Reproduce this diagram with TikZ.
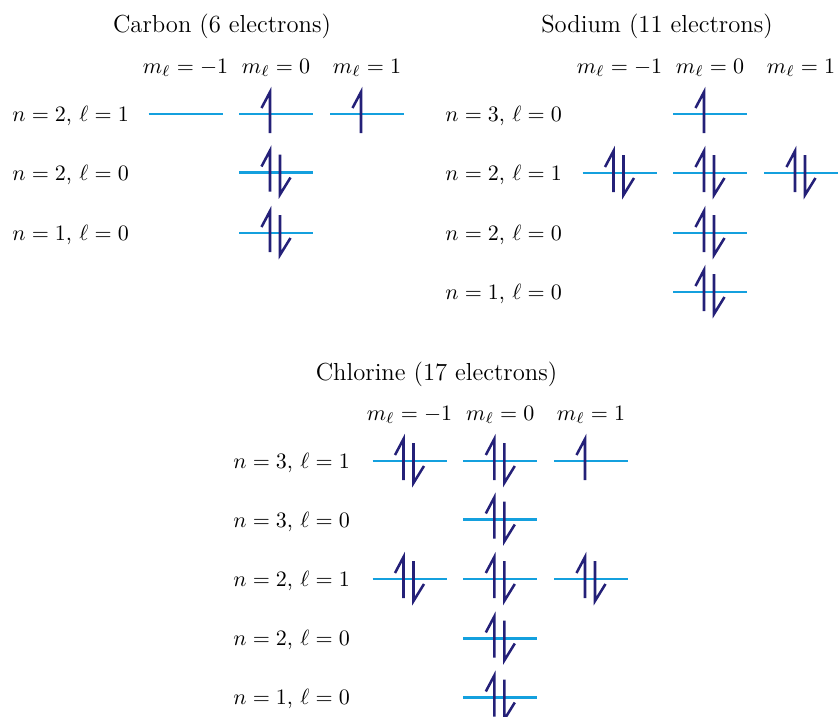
\documentclass[tikz,border=0pt]{standalone}
\definecolor{orbcol}{RGB}{20,160,222}
\definecolor{eleccol}{RGB}{36,32,120}
\tikzset{
  orb/.style={draw=orbcol, line width=1.35pt},
  elec/.style={draw=eleccol, line width=1.15pt, line join=miter, line cap=butt},
  title/.style={anchor=base, inner sep=0pt, font=\fontsize{11.2}{13}\selectfont},
  mlab/.style={anchor=base, inner sep=0pt},
  rlab/.style={anchor=base west, inner sep=0pt},
}
\newcommand\orbital[3]{%
  \draw[orb] ({#1-37},#2) -- ({#1+37},#2);
  \ifnum#3>0 \draw[elec] ({#1-6},{#2+19}) -- ({#1-6},{#2-22}) -- ({#1-14.5},{#2-6});\fi
  \ifnum#3>1 \draw[elec] ({#1+4},{#2-18}) -- ({#1+4},{#2+22}) -- ({#1+14.5},{#2+5});\fi
}
\begin{document}
\begin{tikzpicture}[x=0.4545pt,y=-0.4545pt]
\useasboundingbox (0,0) rectangle (838,717);
% ---------------- Carbon
\node[title] (ctitle) at (222,32) {Carbon (6 electrons)};
\node[mlab] (cm1) at (185.5,73) {$m_\ell = -1$};
\node[mlab] (cm2) at (276,73) {$m_\ell = 0$};
\node[mlab] (cm3) at (367,73) {$m_\ell = 1$};
\node[rlab] (cr1) at (12,121.5) {$n = 2$, $\ell = 1$};
\node[rlab] (cr2) at (12,180) {$n = 2$, $\ell = 0$};
\node[rlab] (cr3) at (12,240.5) {$n = 1$, $\ell = 0$};
\orbital{185.5}{114}{0}
\orbital{276}{114}{1}
\orbital{367}{114}{1}
\orbital{276}{172.5}{2}
\orbital{276}{233}{2}
% ---------------- Sodium
\node[title] (ntitle) at (657,32) {Sodium (11 electrons)};
\node[mlab] (nm1) at (619.5,73) {$m_\ell = -1$};
\node[mlab] (nm2) at (710,73) {$m_\ell = 0$};
\node[mlab] (nm3) at (801,73) {$m_\ell = 1$};
\node[rlab] (nr1) at (445,121.5) {$n = 3$, $\ell = 0$};
\node[rlab] (nr2) at (445,180.5) {$n = 2$, $\ell = 1$};
\node[rlab] (nr3) at (445,240.5) {$n = 2$, $\ell = 0$};
\node[rlab] (nr4) at (445,299.5) {$n = 1$, $\ell = 0$};
\orbital{710}{114}{1}
\orbital{619.5}{173}{2}
\orbital{710}{173}{2}
\orbital{801}{173}{2}
\orbital{710}{233}{2}
\orbital{710}{292}{2}
% ---------------- Chlorine
\node[title] (ltitle) at (436.5,380) {Chlorine (17 electrons)};
\node[mlab] (lm1) at (409.5,420) {$m_\ell = -1$};
\node[mlab] (lm2) at (500.3,420) {$m_\ell = 0$};
\node[mlab] (lm3) at (591,420) {$m_\ell = 1$};
\node[rlab] (lr1) at (233,468) {$n = 3$, $\ell = 1$};
\node[rlab] (lr2) at (233,527) {$n = 3$, $\ell = 0$};
\node[rlab] (lr3) at (233,586) {$n = 2$, $\ell = 1$};
\node[rlab] (lr4) at (233,645) {$n = 2$, $\ell = 0$};
\node[rlab] (lr5) at (233,704) {$n = 1$, $\ell = 0$};
\orbital{409.5}{461}{2}
\orbital{500.3}{461}{2}
\orbital{591}{461}{1}
\orbital{500.3}{519.5}{2}
\orbital{409.5}{579}{2}
\orbital{500.3}{579}{2}
\orbital{591}{579}{2}
\orbital{500.3}{638.5}{2}
\orbital{500.3}{697.5}{2}
\end{tikzpicture}
\end{document}
